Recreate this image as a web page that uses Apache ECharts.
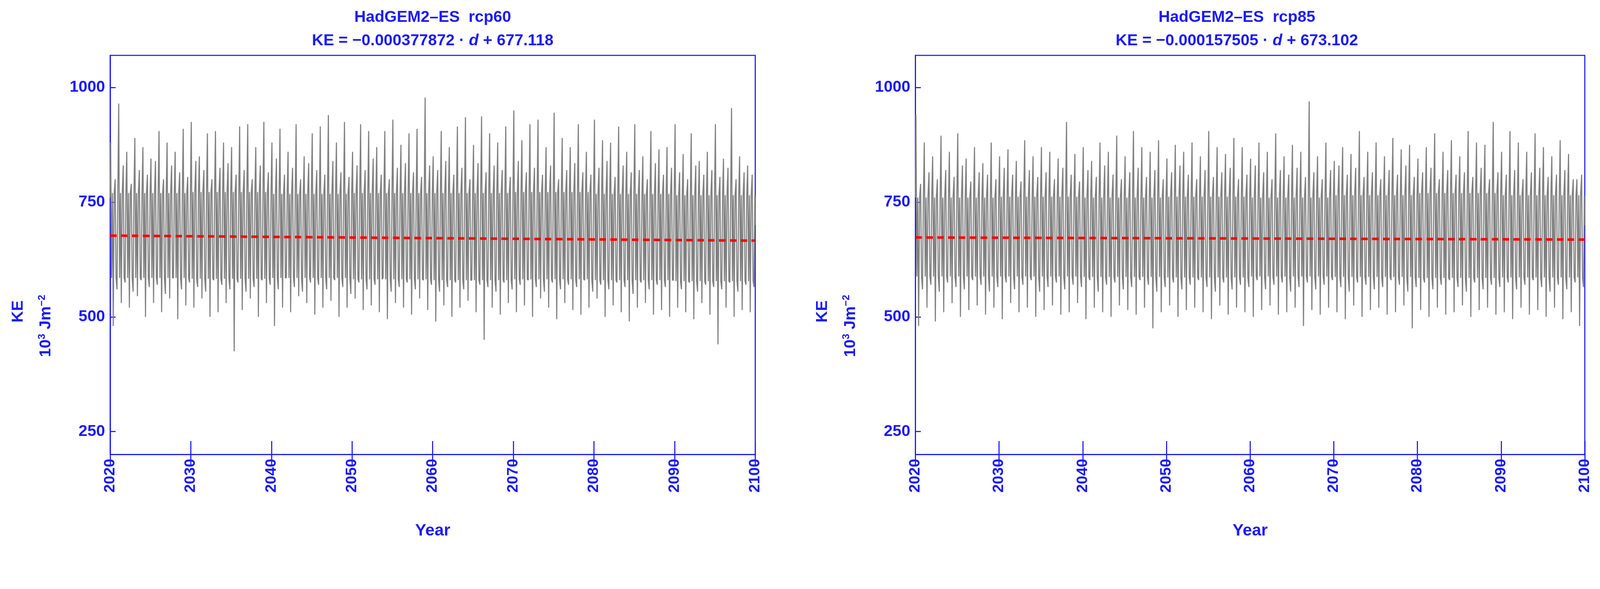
<!DOCTYPE html>
<html><head><meta charset="utf-8">
<script src="https://cdn.jsdelivr.net/npm/echarts@6/dist/echarts.min.js"></script>
<style>html,body{margin:0;padding:0;background:#fff;overflow:hidden}#c{width:100vw;height:100vh}</style>
</head><body><div id="c"></div>
<script>
// ---- data ----
const years = Array.from({length:80},(_,i)=>2020+i);
const xTicks = [2020,2030,2040,2050,2060,2070,2080,2090,2100];
const yTicks = [250,500,750,1000];
// rcp60 panel: yearly main spikes
const hi60 = [880,965,860,890,870,845,905,880,860,910,925,850,900,905,880,870,915,920,870,925,880,910,860,920,850,900,915,940,880,925,860,920,905,870,905,930,875,900,910,978,850,905,870,915,935,875,937,900,880,915,950,885,920,930,870,945,890,870,920,860,930,885,880,915,860,920,850,905,865,870,920,855,900,840,860,920,845,955,850,830];
const lo60 = [480,530,520,545,500,530,510,540,495,525,520,540,500,510,530,425,515,540,500,530,480,520,510,545,530,505,520,535,500,520,540,515,525,510,495,530,520,505,540,515,490,525,500,520,535,510,450,520,505,530,510,525,500,540,520,495,530,515,505,520,540,500,525,510,490,520,530,505,515,500,520,510,495,530,505,440,520,500,515,510];
const hi260 = [800,830,790,820,810,840,800,830,815,805,840,820,800,825,835,810,820,800,830,815,845,810,825,800,835,820,810,840,815,805,830,820,845,810,800,825,835,815,805,830,820,840,810,825,800,835,815,830,820,805,840,815,825,810,830,800,820,835,815,810,825,840,805,830,815,820,800,835,810,825,815,800,830,810,820,805,825,800,815,810];
const lo260 = [560,575,555,580,565,570,550,585,560,575,565,555,580,570,560,575,555,565,580,570,560,585,565,555,575,570,560,580,565,550,575,560,570,585,555,565,575,560,580,570,555,565,575,560,580,570,565,555,575,560,570,580,565,555,575,560,570,565,580,555,570,560,575,565,550,575,560,570,565,580,560,575,555,570,565,560,575,555,570,565];
const core60Hi = [770,772,768,770,770,772,768,765,762];
const core60Lo = [585,583,585,582,580,582,580,578,578];
// rcp85 panel
const hi85 = [940,880,850,895,860,900,845,870,835,880,850,865,840,885,850,870,860,845,925,855,870,840,880,860,895,850,905,870,860,885,845,875,860,880,850,905,870,855,890,870,845,880,860,900,850,875,860,970,850,880,840,870,855,905,860,880,850,890,865,875,845,870,900,860,885,850,905,880,875,925,860,905,880,860,900,870,850,885,855,800];
const lo85 = [480,520,490,510,530,500,515,525,505,520,495,530,510,520,500,515,525,505,510,530,495,520,510,500,525,515,505,520,475,510,525,500,515,520,510,495,525,505,520,510,500,515,525,505,510,520,480,515,505,520,510,495,525,500,515,520,505,510,525,475,515,500,520,505,510,525,500,515,520,505,510,495,520,505,515,500,520,495,510,480];
const hi285 = [790,815,800,820,805,830,795,815,810,800,825,810,795,820,805,815,800,825,810,795,820,805,830,810,800,815,825,805,820,800,815,830,810,800,820,805,815,825,800,810,830,815,800,820,810,825,805,815,800,820,830,810,825,805,815,800,820,810,830,805,815,825,800,820,810,815,805,825,800,815,810,820,800,815,825,805,810,820,800,810];
const lo285 = [560,570,555,575,565,560,580,570,555,565,575,560,570,580,555,565,575,560,570,565,580,555,570,575,560,565,580,570,555,565,575,560,570,580,565,555,575,560,570,565,580,560,570,575,555,565,575,560,570,580,565,555,575,570,560,565,580,570,555,565,575,560,570,580,565,555,575,560,570,565,575,560,570,580,565,555,570,560,575,565];
const core85Hi = [760,762,760,762,760,765,770,765,762];
const core85Lo = [588,588,587,586,588,587,585,586,585];
// fitted trend: KE = a*d + b, d = days since 2020
const trend60 = {a:-0.000377872, b:677.118};
const trend85 = {a:-0.000157505, b:673.102};
const titles = [['HadGEM2\u2013ES  rcp60','\u22120.000377872','677.118'],['HadGEM2\u2013ES  rcp85','\u22120.000157505','673.102']];

const BLUE = '#1a1aff', GRAY = '#808080';
const F = 'Liberation Sans, Arial, sans-serif';
const S = window.innerWidth/4415;
const px = v => v*S;

function zig(hi,lo,hi2,lo2,ch,cl){
  const out=[[2020,760]];
  years.forEach((y,i)=>{
    const d=Math.floor(i/10), h=ch[d], l=cl[d];
    out.push([y+0.06,hi[i]],[y+0.17,l],[y+0.28,h],[y+0.38,lo[i]],[y+0.5,h],[y+0.62,hi2[i]],[y+0.73,l],[y+0.85,lo2[i]],[y+0.95,h]);
  });
  out.push([2100,700]);
  return out;
}
function trendLine(t){return [[2020,t.b],[2100,t.b+t.a*(80*365.25)]];}

const grids=[{left:px(304),width:px(1780),top:px(153),height:px(1102)},{left:px(2526),width:px(1847),top:px(153),height:px(1102)}];
const panels=[
 {z:zig(hi60,lo60,hi260,lo260,core60Hi,core60Lo),ch:core60Hi,cl:core60Lo,t:trend60},
 {z:zig(hi85,lo85,hi285,lo285,core85Hi,core85Lo),ch:core85Hi,cl:core85Lo,t:trend85}];

const xAxis=[],yAxis=[],series=[],grid=[];
grids.forEach((g,k)=>{
  grid.push(Object.assign({show:true,borderColor:BLUE,borderWidth:px(3),backgroundColor:'transparent'},g));
  xAxis.push({type:'value',gridIndex:k,min:2020,max:2100,interval:10,
    name:'Year',nameLocation:'middle',nameGap:px(188),nameTextStyle:{color:BLUE,fontSize:px(46),fontWeight:'bold',fontFamily:F},
    axisLine:{lineStyle:{color:BLUE,width:px(3)}},axisTick:{length:px(33),lineStyle:{color:BLUE,width:px(3)}},
    axisLabel:{rotate:90,color:BLUE,fontSize:px(42),fontWeight:'bold',fontFamily:F,margin:px(12),formatter:v=>String(v)},splitLine:{show:false}});
  xAxis.push({type:'value',gridIndex:k,min:2020,max:2100,interval:10,position:'bottom',
    axisLine:{show:false},axisTick:{inside:true,length:px(37),lineStyle:{color:BLUE,width:px(3)}},axisLabel:{show:false},splitLine:{show:false}});
  yAxis.push({type:'value',gridIndex:k,min:200,max:1070,
    axisLine:{show:true,lineStyle:{color:BLUE,width:px(3)}},
    axisTick:{show:true,inside:true,length:px(15),customValues:yTicks,lineStyle:{color:BLUE,width:px(3)}},
    axisLabel:{customValues:yTicks,color:BLUE,fontSize:px(44),fontWeight:'bold',fontFamily:F,margin:px(14),formatter:v=>String(v)},splitLine:{show:false}});
  const p=panels[k], xs=xTicks;
  series.push({type:'line',xAxisIndex:2*k,yAxisIndex:k,stack:'b'+k,symbol:'none',lineStyle:{opacity:0},data:xs.map((x,i)=>[x,p.cl[i]]),z:1});
  series.push({type:'line',xAxisIndex:2*k,yAxisIndex:k,stack:'b'+k,symbol:'none',lineStyle:{opacity:0},areaStyle:{color:GRAY,opacity:1},data:xs.map((x,i)=>[x,p.ch[i]-p.cl[i]]),z:1});
  series.push({type:'line',xAxisIndex:2*k,yAxisIndex:k,symbol:'none',lineStyle:{color:GRAY,width:px(3)},data:p.z,z:2});
  series.push({type:'line',xAxisIndex:2*k,yAxisIndex:k,symbol:'none',lineStyle:{color:'#ff0000',width:px(7),type:[px(18),px(12)]},data:trendLine(p.t),z:3});
});

const graphic=[];
const fnt = s => 'bold '+px(s)+'px '+F;
[1194,3413].forEach((cx,k)=>{
  graphic.push({type:'text',x:px(cx),y:px(48),style:{text:titles[k][0],fill:BLUE,font:fnt(44),align:'center',verticalAlign:'middle'}});
  graphic.push({type:'text',x:px(cx),y:px(113),style:{text:'KE = '+titles[k][1]+' \u00b7 {i|d} + '+titles[k][2],fill:BLUE,font:fnt(44),align:'center',verticalAlign:'middle',
    rich:{i:{fontStyle:'italic',fontWeight:'bold',fontSize:px(44),fontFamily:F,fill:BLUE}}}});
  const ax=[50,2270][k];
  graphic.push({type:'text',x:px(ax),y:px(860),rotation:Math.PI/2,style:{text:'KE',fill:BLUE,font:fnt(44),align:'center',verticalAlign:'middle'}});
  graphic.push({type:'text',x:px(ax+77),y:px(900),rotation:Math.PI/2,style:{text:'{b|10}{s|3}{b| Jm}{s|\u22122}',align:'center',verticalAlign:'middle',
    rich:{b:{fill:BLUE,fontSize:px(44),fontWeight:'bold',fontFamily:F},s:{fill:BLUE,fontSize:px(28),fontWeight:'bold',fontFamily:F,verticalAlign:'top',padding:[0,0,px(22),0]}}}});
});

const chart=echarts.init(document.getElementById('c'));
chart.setOption({animation:false,backgroundColor:'#fff',grid,xAxis,yAxis,series,graphic});
</script></body></html>
